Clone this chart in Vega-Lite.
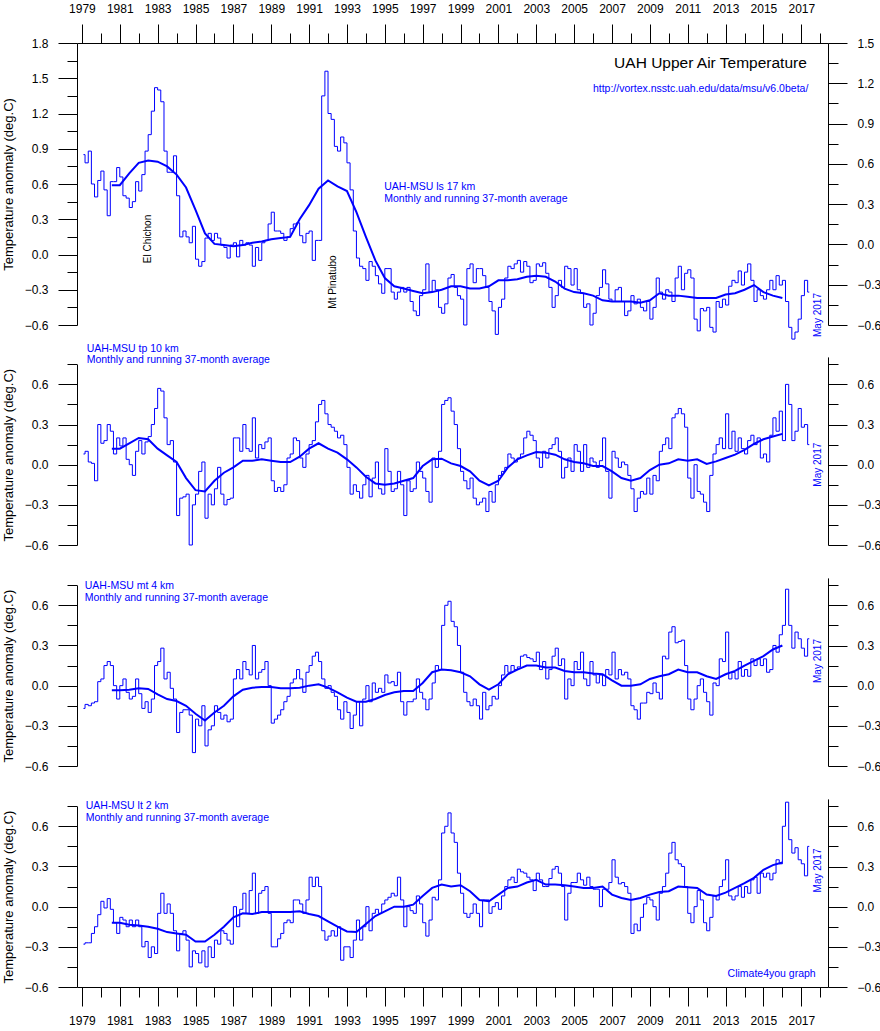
{
"$schema":"https://vega.github.io/schema/vega-lite/v6.json",
"width":751,"height":944,
"autosize":{"type":"none"},
"padding":{"left":77,"top":43,"right":52,"bottom":44},
"background":"white",
"config":{"view":{"stroke":null},"axis":{"labelFont":"Liberation Sans","labelFontSize":12,"labelColor":"#000","titleFont":"Liberation Sans","titleFontSize":13,"titleFontWeight":"normal","titleColor":"#000","domainColor":"#000","tickColor":"#000","grid":false,"labelFlush":false,"labelOverlap":false,"labelBound":false},"text":{"font":"Liberation Sans"}},
"data":{"values":[{}]},
"datasets":{
"m":[
{"t":1979.08,"a":0.85,"b":0.08,"c":-0.17,"d":-0.28},{"t":1979.25,"a":0.78,"b":0.1,"c":-0.14,"d":-0.27},{"t":1979.42,"a":0.88,"b":0.02,"c":-0.15,"d":-0.27},{"t":1979.58,"a":0.6,"b":0.01,"c":-0.13,"d":-0.2},{"t":1979.75,"a":0.49,"b":-0.12,"c":-0.12,"d":-0.15},{"t":1979.92,"a":0.63,"b":0.3,"c":0.03,"d":-0.06},
{"t":1980.08,"a":0.71,"b":0.16,"c":0.05,"d":0.04},{"t":1980.25,"a":0.55,"b":0.18,"c":0.15,"d":-0.01},{"t":1980.42,"a":0.33,"b":0.3,"c":0.18,"d":0.06},{"t":1980.58,"a":0.62,"b":0.25,"c":0.15,"d":-0.02},{"t":1980.75,"a":0.62,"b":0.08,"c":0.0,"d":-0.12},{"t":1980.92,"a":0.74,"b":0.2,"c":-0.1,"d":-0.2},
{"t":1981.08,"a":0.66,"b":0.14,"c":0.0,"d":-0.08},{"t":1981.25,"a":0.5,"b":0.2,"c":0.05,"d":-0.1},{"t":1981.42,"a":0.48,"b":0.04,"c":-0.05,"d":-0.15},{"t":1981.58,"a":0.4,"b":0.0,"c":-0.1,"d":-0.1},{"t":1981.75,"a":0.45,"b":-0.08,"c":-0.08,"d":-0.15},{"t":1981.92,"a":0.62,"b":0.1,"c":0.05,"d":-0.1},
{"t":1982.08,"a":0.54,"b":0.18,"c":-0.06,"d":-0.15},{"t":1982.25,"a":0.68,"b":0.08,"c":-0.17,"d":-0.3},{"t":1982.42,"a":0.88,"b":0.17,"c":-0.12,"d":-0.26},{"t":1982.58,"a":1.02,"b":0.21,"c":-0.2,"d":-0.38},{"t":1982.75,"a":1.22,"b":0.3,"c":-0.1,"d":-0.3},{"t":1982.92,"a":1.42,"b":0.42,"c":0.15,"d":-0.35},
{"t":1983.08,"a":1.4,"b":0.57,"c":0.18,"d":-0.05},{"t":1983.25,"a":1.3,"b":0.55,"c":0.28,"d":0.1},{"t":1983.42,"a":0.88,"b":0.35,"c":0.05,"d":-0.05},{"t":1983.58,"a":0.7,"b":0.15,"c":0.1,"d":0.02},{"t":1983.75,"a":0.7,"b":0.18,"c":-0.02,"d":-0.05},{"t":1983.92,"a":0.84,"b":0.02,"c":-0.1,"d":-0.18},
{"t":1984.08,"a":0.5,"b":-0.38,"c":-0.35,"d":-0.33},{"t":1984.25,"a":0.15,"b":-0.25,"c":-0.2,"d":-0.2},{"t":1984.42,"a":0.2,"b":-0.24,"c":-0.18,"d":-0.18},{"t":1984.58,"a":0.15,"b":-0.22,"c":-0.18,"d":-0.25},{"t":1984.75,"a":0.1,"b":-0.6,"c":-0.22,"d":-0.45},{"t":1984.92,"a":0.24,"b":-0.3,"c":-0.5,"d":-0.33},
{"t":1985.08,"a":-0.04,"b":-0.22,"c":-0.25,"d":-0.35},{"t":1985.25,"a":-0.1,"b":-0.05,"c":-0.3,"d":-0.42},{"t":1985.42,"a":-0.06,"b":0.02,"c":-0.15,"d":-0.33},{"t":1985.58,"a":0.14,"b":-0.4,"c":-0.45,"d":-0.45},{"t":1985.75,"a":0.18,"b":-0.22,"c":-0.33,"d":-0.3},{"t":1985.92,"a":0.12,"b":-0.3,"c":-0.3,"d":-0.38},
{"t":1986.08,"a":0.18,"b":-0.18,"c":-0.15,"d":-0.25},{"t":1986.25,"a":0.14,"b":-0.02,"c":-0.2,"d":-0.28},{"t":1986.42,"a":0.08,"b":-0.22,"c":-0.25,"d":-0.18},{"t":1986.58,"a":0.06,"b":-0.3,"c":-0.22,"d":-0.2},{"t":1986.75,"a":-0.03,"b":-0.26,"c":-0.27,"d":-0.25},{"t":1986.92,"a":0.08,"b":-0.25,"c":-0.25,"d":-0.28},
{"t":1987.08,"a":0.1,"b":0.2,"c":0.05,"d":0.0},{"t":1987.25,"a":-0.02,"b":0.2,"c":0.12,"d":-0.15},{"t":1987.42,"a":0.12,"b":0.1,"c":0.05,"d":-0.02},{"t":1987.58,"a":0.08,"b":0.3,"c":0.18,"d":0.1},{"t":1987.75,"a":0.1,"b":0.12,"c":0.12,"d":-0.05},{"t":1987.92,"a":0.08,"b":0.1,"c":0.08,"d":0.12},
{"t":1988.08,"a":-0.1,"b":0.35,"c":0.3,"d":0.25},{"t":1988.25,"a":0.06,"b":0.05,"c":0.05,"d":-0.05},{"t":1988.42,"a":-0.05,"b":0.15,"c":0.1,"d":0.1},{"t":1988.58,"a":0.1,"b":0.12,"c":0.12,"d":0.12},{"t":1988.75,"a":0.12,"b":0.17,"c":0.18,"d":0.15},{"t":1988.92,"a":0.26,"b":0.2,"c":0.0,"d":-0.05},
{"t":1989.08,"a":0.36,"b":-0.12,"c":-0.28,"d":-0.3},{"t":1989.25,"a":0.2,"b":-0.2,"c":-0.25,"d":-0.3},{"t":1989.42,"a":0.2,"b":-0.17,"c":-0.22,"d":-0.24},{"t":1989.58,"a":0.18,"b":-0.2,"c":-0.18,"d":-0.2},{"t":1989.75,"a":0.12,"b":-0.15,"c":-0.12,"d":-0.12},{"t":1989.92,"a":0.15,"b":0.05,"c":-0.08,"d":-0.1},
{"t":1990.08,"a":0.22,"b":0.08,"c":0.02,"d":-0.12},{"t":1990.25,"a":0.26,"b":0.2,"c":0.05,"d":0.05},{"t":1990.42,"a":0.27,"b":0.18,"c":0.12,"d":0.05},{"t":1990.58,"a":0.16,"b":0.05,"c":0.05,"d":0.02},{"t":1990.75,"a":0.1,"b":-0.02,"c":-0.05,"d":-0.05},{"t":1990.92,"a":0.18,"b":0.08,"c":0.1,"d":0.05},
{"t":1991.08,"a":0.2,"b":0.15,"c":0.15,"d":0.22},{"t":1991.25,"a":-0.05,"b":0.18,"c":0.22,"d":0.15},{"t":1991.42,"a":0.12,"b":0.32,"c":0.25,"d":0.22},{"t":1991.58,"a":0.12,"b":0.45,"c":0.18,"d":0.15},{"t":1991.75,"a":1.35,"b":0.48,"c":0.05,"d":-0.18},{"t":1991.92,"a":1.56,"b":0.38,"c":-0.02,"d":-0.25},
{"t":1992.08,"a":1.2,"b":0.3,"c":0.0,"d":-0.22},{"t":1992.25,"a":1.15,"b":0.28,"c":-0.05,"d":-0.18},{"t":1992.42,"a":0.92,"b":0.25,"c":-0.08,"d":-0.22},{"t":1992.58,"a":0.88,"b":0.2,"c":-0.18,"d":-0.15},{"t":1992.75,"a":1.0,"b":0.22,"c":-0.25,"d":-0.4},{"t":1992.92,"a":0.95,"b":0.15,"c":-0.12,"d":-0.3},
{"t":1993.08,"a":0.78,"b":-0.02,"c":-0.2,"d":-0.3},{"t":1993.25,"a":0.55,"b":-0.22,"c":-0.32,"d":-0.38},{"t":1993.42,"a":0.2,"b":-0.15,"c":-0.22,"d":-0.25},{"t":1993.58,"a":-0.03,"b":-0.2,"c":-0.12,"d":-0.1},{"t":1993.75,"a":-0.1,"b":-0.25,"c":-0.3,"d":-0.25},{"t":1993.92,"a":-0.12,"b":-0.15,"c":-0.1,"d":-0.15},
{"t":1994.08,"a":-0.22,"b":-0.08,"c":0.0,"d":0.0},{"t":1994.25,"a":-0.06,"b":-0.24,"c":-0.12,"d":-0.18},{"t":1994.42,"a":-0.1,"b":-0.1,"c":0.02,"d":-0.05},{"t":1994.58,"a":-0.18,"b":0.02,"c":-0.05,"d":-0.02},{"t":1994.75,"a":-0.25,"b":-0.18,"c":-0.02,"d":-0.05},{"t":1994.92,"a":-0.33,"b":-0.22,"c":-0.05,"d":0.02},
{"t":1995.08,"a":-0.12,"b":0.12,"c":0.08,"d":0.05},{"t":1995.25,"a":-0.12,"b":-0.05,"c":0.02,"d":0.07},{"t":1995.42,"a":-0.32,"b":-0.2,"c":0.03,"d":0.1},{"t":1995.58,"a":-0.38,"b":-0.18,"c":0.0,"d":0.08},{"t":1995.75,"a":-0.32,"b":-0.05,"c":0.1,"d":0.22},{"t":1995.92,"a":-0.28,"b":-0.15,"c":-0.12,"d":0.05},
{"t":1996.08,"a":-0.32,"b":-0.38,"c":-0.22,"d":-0.15},{"t":1996.25,"a":-0.28,"b":-0.12,"c":-0.12,"d":0.0},{"t":1996.42,"a":-0.4,"b":-0.2,"c":-0.12,"d":-0.03},{"t":1996.58,"a":-0.48,"b":-0.18,"c":-0.1,"d":-0.05},{"t":1996.75,"a":-0.52,"b":0.02,"c":0.05,"d":0.08},{"t":1996.92,"a":-0.35,"b":-0.05,"c":-0.05,"d":0.02},
{"t":1997.08,"a":-0.3,"b":-0.1,"c":-0.1,"d":-0.12},{"t":1997.25,"a":-0.08,"b":-0.2,"c":-0.18,"d":-0.22},{"t":1997.42,"a":-0.32,"b":-0.28,"c":-0.1,"d":-0.1},{"t":1997.58,"a":-0.22,"b":0.05,"c":0.02,"d":0.07},{"t":1997.75,"a":-0.3,"b":-0.02,"c":0.15,"d":0.05},{"t":1997.92,"a":-0.45,"b":0.1,"c":0.12,"d":0.2},
{"t":1998.08,"a":-0.5,"b":0.45,"c":0.45,"d":0.55},{"t":1998.25,"a":-0.42,"b":0.48,"c":0.6,"d":0.6},{"t":1998.42,"a":-0.2,"b":0.5,"c":0.63,"d":0.7},{"t":1998.58,"a":-0.17,"b":0.4,"c":0.48,"d":0.55},{"t":1998.75,"a":-0.28,"b":0.3,"c":0.44,"d":0.48},{"t":1998.92,"a":-0.35,"b":0.12,"c":0.3,"d":0.25},
{"t":1999.08,"a":-0.38,"b":-0.05,"c":0.1,"d":0.1},{"t":1999.25,"a":-0.6,"b":-0.12,"c":-0.05,"d":-0.05},{"t":1999.42,"a":-0.12,"b":-0.18,"c":-0.12,"d":-0.08},{"t":1999.58,"a":-0.08,"b":-0.1,"c":-0.15,"d":-0.05},{"t":1999.75,"a":-0.24,"b":-0.25,"c":-0.1,"d":0.02},{"t":1999.92,"a":-0.12,"b":-0.3,"c":-0.15,"d":-0.05},
{"t":2000.08,"a":-0.12,"b":-0.28,"c":-0.25,"d":-0.15},{"t":2000.25,"a":-0.18,"b":-0.25,"c":-0.05,"d":0.05},{"t":2000.42,"a":-0.28,"b":-0.35,"c":-0.18,"d":0.05},{"t":2000.58,"a":-0.4,"b":-0.2,"c":-0.15,"d":-0.05},{"t":2000.75,"a":-0.48,"b":-0.28,"c":-0.08,"d":0.0},{"t":2000.92,"a":-0.68,"b":-0.15,"c":-0.1,"d":0.03},
{"t":2001.08,"a":-0.45,"b":-0.08,"c":0.0,"d":-0.02},{"t":2001.25,"a":-0.38,"b":-0.05,"c":0.08,"d":0.08},{"t":2001.42,"a":-0.2,"b":-0.02,"c":0.15,"d":0.15},{"t":2001.58,"a":-0.1,"b":0.08,"c":0.1,"d":0.2},{"t":2001.75,"a":-0.12,"b":0.05,"c":0.15,"d":0.22},{"t":2001.92,"a":-0.08,"b":0.02,"c":0.12,"d":0.18},
{"t":2002.08,"a":-0.05,"b":0.05,"c":0.14,"d":0.28},{"t":2002.25,"a":-0.15,"b":0.08,"c":0.22,"d":0.26},{"t":2002.42,"a":-0.06,"b":0.2,"c":0.23,"d":0.25},{"t":2002.58,"a":-0.1,"b":0.25,"c":0.21,"d":0.22},{"t":2002.75,"a":-0.24,"b":0.22,"c":0.2,"d":0.2},{"t":2002.92,"a":-0.22,"b":0.18,"c":0.18,"d":0.12},
{"t":2003.08,"a":-0.08,"b":0.05,"c":0.25,"d":0.25},{"t":2003.25,"a":-0.1,"b":-0.02,"c":0.12,"d":0.2},{"t":2003.42,"a":-0.07,"b":0.1,"c":0.18,"d":0.15},{"t":2003.58,"a":-0.16,"b":0.05,"c":0.05,"d":0.15},{"t":2003.75,"a":-0.28,"b":0.12,"c":0.12,"d":0.21},{"t":2003.92,"a":-0.45,"b":0.15,"c":0.22,"d":0.28},
{"t":2004.08,"a":-0.35,"b":0.2,"c":0.28,"d":0.3},{"t":2004.25,"a":-0.22,"b":0.1,"c":0.15,"d":0.25},{"t":2004.42,"a":-0.28,"b":-0.1,"c":0.2,"d":0.15},{"t":2004.58,"a":-0.1,"b":-0.02,"c":-0.1,"d":-0.1},{"t":2004.75,"a":-0.12,"b":0.05,"c":0.05,"d":0.1},{"t":2004.92,"a":-0.26,"b":-0.05,"c":0.0,"d":0.18},
{"t":2005.08,"a":-0.12,"b":0.15,"c":0.18,"d":0.18},{"t":2005.25,"a":-0.3,"b":0.1,"c":0.12,"d":0.25},{"t":2005.42,"a":-0.33,"b":-0.05,"c":0.25,"d":0.2},{"t":2005.58,"a":-0.45,"b":0.15,"c":0.05,"d":0.16},{"t":2005.75,"a":-0.42,"b":-0.02,"c":0.0,"d":0.22},{"t":2005.92,"a":-0.6,"b":0.05,"c":0.18,"d":0.15},
{"t":2006.08,"a":-0.5,"b":0.02,"c":0.08,"d":0.13},{"t":2006.25,"a":-0.35,"b":-0.02,"c":0.02,"d":0.13},{"t":2006.42,"a":-0.28,"b":0.03,"c":0.08,"d":0.0},{"t":2006.58,"a":-0.13,"b":0.2,"c":0.0,"d":0.13},{"t":2006.75,"a":-0.25,"b":-0.05,"c":0.12,"d":0.13},{"t":2006.92,"a":-0.38,"b":-0.25,"c":0.08,"d":0.18},
{"t":2007.08,"a":-0.4,"b":0.1,"c":0.25,"d":0.35},{"t":2007.25,"a":-0.3,"b":0.05,"c":0.05,"d":0.22},{"t":2007.42,"a":-0.28,"b":-0.02,"c":0.12,"d":0.17},{"t":2007.58,"a":-0.4,"b":0.02,"c":0.08,"d":0.18},{"t":2007.75,"a":-0.52,"b":0.0,"c":0.1,"d":0.15},{"t":2007.92,"a":-0.48,"b":-0.08,"c":0.05,"d":0.1},
{"t":2008.08,"a":-0.35,"b":-0.18,"c":-0.15,"d":-0.2},{"t":2008.25,"a":-0.42,"b":-0.35,"c":-0.18,"d":-0.13},{"t":2008.42,"a":-0.38,"b":-0.25,"c":-0.25,"d":-0.18},{"t":2008.58,"a":-0.45,"b":-0.2,"c":-0.13,"d":-0.08},{"t":2008.75,"a":-0.48,"b":-0.22,"c":-0.13,"d":0.02},{"t":2008.92,"a":-0.4,"b":-0.1,"c":-0.05,"d":0.07},
{"t":2009.08,"a":-0.55,"b":-0.22,"c":-0.06,"d":0.05},{"t":2009.25,"a":-0.45,"b":-0.08,"c":0.02,"d":0.0},{"t":2009.42,"a":-0.2,"b":-0.12,"c":-0.05,"d":-0.1},{"t":2009.58,"a":-0.32,"b":0.1,"c":-0.1,"d":0.1},{"t":2009.75,"a":-0.38,"b":0.15,"c":0.22,"d":0.15},{"t":2009.92,"a":-0.3,"b":0.2,"c":0.2,"d":0.25},
{"t":2010.08,"a":-0.32,"b":0.12,"c":0.4,"d":0.4},{"t":2010.25,"a":-0.4,"b":0.35,"c":0.44,"d":0.48},{"t":2010.42,"a":-0.2,"b":0.38,"c":0.32,"d":0.35},{"t":2010.58,"a":-0.1,"b":0.42,"c":0.33,"d":0.32},{"t":2010.75,"a":-0.3,"b":0.38,"c":0.34,"d":0.3},{"t":2010.92,"a":-0.16,"b":0.28,"c":0.15,"d":0.15},
{"t":2011.08,"a":-0.13,"b":-0.1,"c":-0.1,"d":-0.05},{"t":2011.25,"a":-0.2,"b":-0.25,"c":-0.18,"d":-0.12},{"t":2011.42,"a":-0.55,"b":0.0,"c":-0.1,"d":0.0},{"t":2011.58,"a":-0.65,"b":-0.2,"c":0.0,"d":0.12},{"t":2011.75,"a":-0.46,"b":-0.22,"c":0.05,"d":0.05},{"t":2011.92,"a":-0.48,"b":-0.28,"c":-0.05,"d":-0.12},
{"t":2012.08,"a":-0.45,"b":-0.35,"c":-0.12,"d":-0.18},{"t":2012.25,"a":-0.62,"b":-0.08,"c":-0.22,"d":-0.08},{"t":2012.42,"a":-0.66,"b":0.08,"c":0.02,"d":0.08},{"t":2012.58,"a":-0.4,"b":0.15,"c":0.0,"d":0.05},{"t":2012.75,"a":-0.45,"b":0.2,"c":0.2,"d":0.15},{"t":2012.92,"a":-0.38,"b":0.12,"c":0.18,"d":0.2},
{"t":2013.08,"a":-0.43,"b":0.38,"c":0.4,"d":0.35},{"t":2013.25,"a":-0.27,"b":0.12,"c":0.05,"d":0.08},{"t":2013.42,"a":-0.22,"b":0.25,"c":0.1,"d":0.05},{"t":2013.58,"a":-0.24,"b":0.1,"c":0.05,"d":0.08},{"t":2013.75,"a":-0.14,"b":0.2,"c":0.18,"d":0.15},{"t":2013.92,"a":-0.26,"b":0.12,"c":0.07,"d":0.07},
{"t":2014.08,"a":-0.15,"b":0.08,"c":0.12,"d":0.15},{"t":2014.25,"a":-0.08,"b":0.18,"c":0.07,"d":0.1},{"t":2014.42,"a":-0.22,"b":0.22,"c":0.2,"d":0.2},{"t":2014.58,"a":-0.4,"b":0.15,"c":0.15,"d":0.22},{"t":2014.75,"a":-0.3,"b":0.2,"c":0.2,"d":0.1},{"t":2014.92,"a":-0.35,"b":0.05,"c":0.15,"d":0.25},
{"t":2015.08,"a":-0.38,"b":0.08,"c":0.2,"d":0.22},{"t":2015.25,"a":-0.3,"b":0.02,"c":0.1,"d":0.25},{"t":2015.42,"a":-0.22,"b":0.22,"c":0.12,"d":0.2},{"t":2015.58,"a":-0.3,"b":0.35,"c":0.3,"d":0.25},{"t":2015.75,"a":-0.18,"b":0.25,"c":0.25,"d":0.35},{"t":2015.92,"a":-0.26,"b":0.4,"c":0.38,"d":0.32},
{"t":2016.08,"a":-0.22,"b":0.18,"c":0.45,"d":0.6},{"t":2016.25,"a":-0.4,"b":0.6,"c":0.72,"d":0.78},{"t":2016.42,"a":-0.62,"b":0.45,"c":0.45,"d":0.5},{"t":2016.58,"a":-0.72,"b":0.18,"c":0.28,"d":0.4},{"t":2016.75,"a":-0.66,"b":0.25,"c":0.4,"d":0.44},{"t":2016.92,"a":-0.55,"b":0.42,"c":0.35,"d":0.35},
{"t":2017.08,"a":-0.35,"b":0.28,"c":0.28,"d":0.32},{"t":2017.25,"a":-0.22,"b":0.3,"c":0.22,"d":0.23},{"t":2017.42,"a":-0.32,"b":0.15,"c":0.35,"d":0.45}
],
"avg":[
{"t":1980.58,"a":0.59,"b":0.12,"c":-0.035,"d":-0.12},{"t":1981.0,"a":0.59,"b":0.12,"c":-0.035,"d":-0.12},{"t":1981.5,"a":0.69,"b":0.16,"c":-0.03,"d":-0.135},{"t":1982.0,"a":0.78,"b":0.2,"c":-0.02,"d":-0.14},{"t":1982.5,"a":0.8,"b":0.19,"c":-0.025,"d":-0.15},{"t":1983.0,"a":0.79,"b":0.12,"c":-0.065,"d":-0.165},{"t":1983.5,"a":0.75,"b":0.07,"c":-0.1,"d":-0.19},{"t":1984.0,"a":0.68,"b":0.02,"c":-0.115,"d":-0.2},{"t":1984.5,"a":0.57,"b":-0.1,"c":-0.15,"d":-0.21},{"t":1985.0,"a":0.38,"b":-0.19,"c":-0.21,"d":-0.26},{"t":1985.5,"a":0.18,"b":-0.2,"c":-0.26,"d":-0.26},{"t":1986.0,"a":0.09,"b":-0.12,"c":-0.2,"d":-0.21},{"t":1986.5,"a":0.08,"b":-0.06,"c":-0.15,"d":-0.15},{"t":1987.0,"a":0.07,"b":-0.02,"c":-0.08,"d":-0.08},{"t":1987.5,"a":0.08,"b":0.03,"c":-0.03,"d":-0.05},{"t":1988.0,"a":0.1,"b":0.03,"c":-0.015,"d":-0.055},{"t":1988.5,"a":0.11,"b":0.04,"c":-0.01,"d":-0.04},{"t":1989.0,"a":0.13,"b":0.03,"c":-0.01,"d":-0.04},{"t":1989.5,"a":0.14,"b":0.02,"c":-0.02,"d":-0.04},{"t":1990.0,"a":0.15,"b":0.02,"c":-0.02,"d":-0.04},{"t":1990.5,"a":0.3,"b":0.06,"c":-0.015,"d":-0.035},{"t":1991.0,"a":0.42,"b":0.12,"c":0.0,"d":-0.055},{"t":1991.5,"a":0.56,"b":0.16,"c":0.01,"d":-0.07},{"t":1992.0,"a":0.63,"b":0.12,"c":-0.015,"d":-0.11},{"t":1992.5,"a":0.58,"b":0.09,"c":-0.05,"d":-0.15},{"t":1993.0,"a":0.54,"b":0.04,"c":-0.09,"d":-0.185},{"t":1993.5,"a":0.36,"b":-0.02,"c":-0.12,"d":-0.19},{"t":1994.0,"a":0.15,"b":-0.09,"c":-0.12,"d":-0.13},{"t":1994.5,"a":-0.05,"b":-0.14,"c":-0.1,"d":-0.07},{"t":1995.0,"a":-0.2,"b":-0.15,"c":-0.07,"d":-0.035},{"t":1995.5,"a":-0.27,"b":-0.14,"c":-0.05,"d":0.0},{"t":1996.0,"a":-0.29,"b":-0.12,"c":-0.04,"d":0.0},{"t":1996.5,"a":-0.31,"b":-0.1,"c":-0.04,"d":0.015},{"t":1997.0,"a":-0.33,"b":-0.01,"c":0.02,"d":0.08},{"t":1997.5,"a":-0.32,"b":0.04,"c":0.1,"d":0.14},{"t":1998.0,"a":-0.3,"b":0.045,"c":0.12,"d":0.165},{"t":1998.5,"a":-0.27,"b":0.01,"c":0.115,"d":0.15},{"t":1999.0,"a":-0.27,"b":-0.01,"c":0.1,"d":0.16},{"t":1999.5,"a":-0.29,"b":-0.05,"c":0.07,"d":0.115},{"t":2000.0,"a":-0.29,"b":-0.12,"c":0.01,"d":0.05},{"t":2000.5,"a":-0.27,"b":-0.155,"c":-0.03,"d":0.04},{"t":2001.0,"a":-0.22,"b":-0.12,"c":0.01,"d":0.09},{"t":2001.5,"a":-0.22,"b":-0.02,"c":0.085,"d":0.14},{"t":2002.0,"a":-0.21,"b":0.04,"c":0.12,"d":0.15},{"t":2002.5,"a":-0.19,"b":0.07,"c":0.15,"d":0.18},{"t":2003.0,"a":-0.18,"b":0.095,"c":0.15,"d":0.2},{"t":2003.5,"a":-0.19,"b":0.09,"c":0.135,"d":0.165},{"t":2004.0,"a":-0.23,"b":0.075,"c":0.135,"d":0.165},{"t":2004.5,"a":-0.29,"b":0.04,"c":0.11,"d":0.16},{"t":2005.0,"a":-0.32,"b":0.02,"c":0.1,"d":0.15},{"t":2005.5,"a":-0.33,"b":0.01,"c":0.1,"d":0.14},{"t":2006.0,"a":-0.35,"b":-0.01,"c":0.09,"d":0.14},{"t":2006.5,"a":-0.39,"b":-0.01,"c":0.085,"d":0.15},{"t":2007.0,"a":-0.4,"b":-0.05,"c":0.04,"d":0.09},{"t":2007.5,"a":-0.4,"b":-0.1,"c":0.0,"d":0.065},{"t":2008.0,"a":-0.4,"b":-0.12,"c":0.0,"d":0.05},{"t":2008.5,"a":-0.41,"b":-0.1,"c":0.01,"d":0.065},{"t":2009.0,"a":-0.39,"b":-0.04,"c":0.05,"d":0.09},{"t":2009.5,"a":-0.33,"b":0.0,"c":0.07,"d":0.11},{"t":2010.0,"a":-0.35,"b":0.01,"c":0.085,"d":0.115},{"t":2010.5,"a":-0.35,"b":0.04,"c":0.12,"d":0.15},{"t":2011.0,"a":-0.36,"b":0.03,"c":0.1,"d":0.145},{"t":2011.5,"a":-0.37,"b":0.04,"c":0.1,"d":0.14},{"t":2012.0,"a":-0.37,"b":0.005,"c":0.07,"d":0.09},{"t":2012.5,"a":-0.37,"b":0.025,"c":0.05,"d":0.08},{"t":2013.0,"a":-0.34,"b":0.05,"c":0.085,"d":0.105},{"t":2013.5,"a":-0.33,"b":0.075,"c":0.11,"d":0.14},{"t":2014.0,"a":-0.3,"b":0.11,"c":0.15,"d":0.175},{"t":2014.5,"a":-0.26,"b":0.155,"c":0.185,"d":0.215},{"t":2015.0,"a":-0.32,"b":0.19,"c":0.22,"d":0.275},{"t":2015.5,"a":-0.35,"b":0.21,"c":0.27,"d":0.31},{"t":2016.0,"a":-0.37,"b":0.23,"c":0.3,"d":0.33}
]},
"resolve":{"scale":{"y":"independent"},"axis":{"x":"independent","y":"independent"}},
"layer":[
{"data":{"name":"m"},"mark":{"type":"line","interpolate":"step","color":"#0000ff","strokeWidth":1},"encoding":{"x":{"field":"t","type":"quantitative","scale":{"domain":[1978.74,2018.41],"nice":false,"zero":false},"axis":{"orient":"top","values":[1979,1981,1983,1985,1987,1989,1991,1993,1995,1997,1999,2001,2003,2005,2007,2009,2011,2013,2015,2017],"format":"d","tickSize":19,"labelPadding":9,"title":null}},"y":{"field":"a","type":"quantitative","scale":{"domain":[-0.6,1.8],"range":[282,0],"nice":false,"zero":false},"axis":{"orient":"left","values":[-0.6,-0.3,0,0.3,0.6,0.9,1.2,1.5,1.8],"format":".1f","tickSize":19,"labelPadding":10,"title":"Temperature anomaly (deg.C)","titleX":-69,"titleY":141,"titleAngle":270,"titleAlign":"center","titleBaseline":"middle"}}}},
{"data":{"name":"avg"},"mark":{"type":"line","color":"#0000ff","strokeWidth":2},"encoding":{"x":{"field":"t","type":"quantitative","scale":{"domain":[1978.74,2018.41],"nice":false,"zero":false},"axis":null},"y":{"field":"a","type":"quantitative","scale":{"domain":[-0.6,1.8],"range":[282,0],"nice":false,"zero":false},"axis":null}}},
{"mark":{"type":"point","opacity":0},"encoding":{"x":{"datum":2000,"type":"quantitative","scale":{"domain":[1978.74,2018.41],"nice":false,"zero":false},"axis":{"orient":"top","values":[1980,1982,1984,1986,1988,1990,1992,1994,1996,1998,2000,2002,2004,2006,2008,2010,2012,2014,2016,2018],"tickSize":10,"labels":false,"domain":false,"title":null}},"y":{"datum":0,"type":"quantitative","scale":{"domain":[-0.6,1.8],"range":[282,0],"nice":false,"zero":false},"axis":{"orient":"left","values":[-0.45,-0.15,0.15,0.45,0.75,1.05,1.35,1.65],"tickSize":10,"labels":false,"domain":false,"title":null}}}},
{"mark":{"type":"point","opacity":0},"encoding":{"y":{"datum":0,"type":"quantitative","scale":{"domain":[-0.6,1.5],"range":[282,0],"nice":false,"zero":false},"axis":{"orient":"right","values":[-0.6,-0.3,0,0.3,0.6,0.9,1.2,1.5],"format":".1f","tickSize":19,"labelPadding":10,"title":null}}}},
{"mark":{"type":"point","opacity":0},"encoding":{"y":{"datum":0,"type":"quantitative","scale":{"domain":[-0.6,1.5],"range":[282,0],"nice":false,"zero":false},"axis":{"orient":"right","values":[-0.45,-0.15,0.15,0.45,0.75,1.05,1.35],"tickSize":10,"labels":false,"domain":false,"title":null}}}},

{"data":{"name":"m"},"mark":{"type":"line","interpolate":"step","color":"#0000ff","strokeWidth":1},"encoding":{"x":{"field":"t","type":"quantitative","scale":{"domain":[1978.74,2018.41],"nice":false,"zero":false},"axis":null},"y":{"field":"b","type":"quantitative","scale":{"domain":[-0.6,0.75],"range":[502,321.3],"nice":false,"zero":false},"axis":{"orient":"left","values":[-0.6,-0.3,0,0.3,0.6],"format":".1f","tickSize":19,"labelPadding":10,"title":"Temperature anomaly (deg.C)","titleX":-69,"titleY":411.7,"titleAngle":270,"titleAlign":"center","titleBaseline":"middle"}}}},
{"data":{"name":"avg"},"mark":{"type":"line","color":"#0000ff","strokeWidth":2},"encoding":{"x":{"field":"t","type":"quantitative","scale":{"domain":[1978.74,2018.41],"nice":false,"zero":false},"axis":null},"y":{"field":"b","type":"quantitative","scale":{"domain":[-0.6,0.75],"range":[502,321.3],"nice":false,"zero":false},"axis":null}}},
{"mark":{"type":"point","opacity":0},"encoding":{"y":{"datum":0,"type":"quantitative","scale":{"domain":[-0.6,0.75],"range":[502,321.3],"nice":false,"zero":false},"axis":{"orient":"left","values":[-0.45,-0.15,0.15,0.45,0.75],"tickSize":10,"labels":false,"domain":false,"title":null}}}},
{"mark":{"type":"point","opacity":0},"encoding":{"y":{"datum":0,"type":"quantitative","scale":{"domain":[-0.6,0.805],"range":[502,313.9],"nice":false,"zero":false},"axis":{"orient":"right","values":[-0.6,-0.3,0,0.3,0.6],"format":".1f","tickSize":19,"labelPadding":10,"title":null}}}},
{"mark":{"type":"point","opacity":0},"encoding":{"y":{"datum":0,"type":"quantitative","scale":{"domain":[-0.6,0.805],"range":[502,313.9],"nice":false,"zero":false},"axis":{"orient":"right","values":[-0.45,-0.15,0.15,0.45,0.75],"tickSize":10,"labels":false,"domain":false,"title":null}}}},

{"data":{"name":"m"},"mark":{"type":"line","interpolate":"step","color":"#0000ff","strokeWidth":1},"encoding":{"x":{"field":"t","type":"quantitative","scale":{"domain":[1978.74,2018.41],"nice":false,"zero":false},"axis":null},"y":{"field":"c","type":"quantitative","scale":{"domain":[-0.6,0.75],"range":[723,542.2],"nice":false,"zero":false},"axis":{"orient":"left","values":[-0.6,-0.3,0,0.3,0.6],"format":".1f","tickSize":19,"labelPadding":10,"title":"Temperature anomaly (deg.C)","titleX":-69,"titleY":632.6,"titleAngle":270,"titleAlign":"center","titleBaseline":"middle"}}}},
{"data":{"name":"avg"},"mark":{"type":"line","color":"#0000ff","strokeWidth":2},"encoding":{"x":{"field":"t","type":"quantitative","scale":{"domain":[1978.74,2018.41],"nice":false,"zero":false},"axis":null},"y":{"field":"c","type":"quantitative","scale":{"domain":[-0.6,0.75],"range":[723,542.2],"nice":false,"zero":false},"axis":null}}},
{"mark":{"type":"point","opacity":0},"encoding":{"y":{"datum":0,"type":"quantitative","scale":{"domain":[-0.6,0.75],"range":[723,542.2],"nice":false,"zero":false},"axis":{"orient":"left","values":[-0.45,-0.15,0.15,0.45,0.75],"tickSize":10,"labels":false,"domain":false,"title":null}}}},
{"mark":{"type":"point","opacity":0},"encoding":{"y":{"datum":0,"type":"quantitative","scale":{"domain":[-0.6,0.805],"range":[723,534.9],"nice":false,"zero":false},"axis":{"orient":"right","values":[-0.6,-0.3,0,0.3,0.6],"format":".1f","tickSize":19,"labelPadding":10,"title":null}}}},
{"mark":{"type":"point","opacity":0},"encoding":{"y":{"datum":0,"type":"quantitative","scale":{"domain":[-0.6,0.805],"range":[723,534.9],"nice":false,"zero":false},"axis":{"orient":"right","values":[-0.45,-0.15,0.15,0.45,0.75],"tickSize":10,"labels":false,"domain":false,"title":null}}}},

{"data":{"name":"m"},"mark":{"type":"line","interpolate":"step","color":"#0000ff","strokeWidth":1},"encoding":{"x":{"field":"t","type":"quantitative","scale":{"domain":[1978.74,2018.41],"nice":false,"zero":false},"axis":{"orient":"bottom","values":[1979,1981,1983,1985,1987,1989,1991,1993,1995,1997,1999,2001,2003,2005,2007,2009,2011,2013,2015,2017],"format":"d","tickSize":19,"labelPadding":9,"title":null}},"y":{"field":"d","type":"quantitative","scale":{"domain":[-0.6,0.75],"range":[944,763.2],"nice":false,"zero":false},"axis":{"orient":"left","values":[-0.6,-0.3,0,0.3,0.6],"format":".1f","tickSize":19,"labelPadding":10,"title":"Temperature anomaly (deg.C)","titleX":-69,"titleY":853.6,"titleAngle":270,"titleAlign":"center","titleBaseline":"middle"}}}},
{"data":{"name":"avg"},"mark":{"type":"line","color":"#0000ff","strokeWidth":2},"encoding":{"x":{"field":"t","type":"quantitative","scale":{"domain":[1978.74,2018.41],"nice":false,"zero":false},"axis":null},"y":{"field":"d","type":"quantitative","scale":{"domain":[-0.6,0.75],"range":[944,763.2],"nice":false,"zero":false},"axis":null}}},
{"mark":{"type":"point","opacity":0},"encoding":{"x":{"datum":2000,"type":"quantitative","scale":{"domain":[1978.74,2018.41],"nice":false,"zero":false},"axis":{"orient":"bottom","values":[1980,1982,1984,1986,1988,1990,1992,1994,1996,1998,2000,2002,2004,2006,2008,2010,2012,2014,2016,2018],"tickSize":10,"labels":false,"domain":false,"title":null}},"y":{"datum":0,"type":"quantitative","scale":{"domain":[-0.6,0.75],"range":[944,763.2],"nice":false,"zero":false},"axis":{"orient":"left","values":[-0.45,-0.15,0.15,0.45,0.75],"tickSize":10,"labels":false,"domain":false,"title":null}}}},
{"mark":{"type":"point","opacity":0},"encoding":{"y":{"datum":0,"type":"quantitative","scale":{"domain":[-0.6,0.805],"range":[944,755.9],"nice":false,"zero":false},"axis":{"orient":"right","values":[-0.6,-0.3,0,0.3,0.6],"format":".1f","tickSize":19,"labelPadding":10,"title":null}}}},
{"mark":{"type":"point","opacity":0},"encoding":{"y":{"datum":0,"type":"quantitative","scale":{"domain":[-0.6,0.805],"range":[944,755.9],"nice":false,"zero":false},"axis":{"orient":"right","values":[-0.45,-0.15,0.15,0.45,0.75],"tickSize":10,"labels":false,"domain":false,"title":null}}}},

{"mark":{"type":"text","text":"UAH Upper Air Temperature","align":"right","baseline":"middle","fontSize":15.5,"color":"#000"},"encoding":{"x":{"datum":2017.29,"type":"quantitative","scale":{"domain":[1978.74,2018.41],"nice":false,"zero":false},"axis":null},"y":{"datum":1.627,"type":"quantitative","scale":{"domain":[-0.6,1.8],"range":[282,0],"nice":false,"zero":false},"axis":null}}},
{"mark":{"type":"text","text":"http://vortex.nsstc.uah.edu/data/msu/v6.0beta/","align":"right","baseline":"middle","fontSize":10.5,"color":"#0000ff"},"encoding":{"x":{"datum":2017.37,"type":"quantitative","scale":{"domain":[1978.74,2018.41],"nice":false,"zero":false},"axis":null},"y":{"datum":1.411,"type":"quantitative","scale":{"domain":[-0.6,1.8],"range":[282,0],"nice":false,"zero":false},"axis":null}}},
{"mark":{"type":"text","text":"UAH-MSU ls 17 km","align":"left","baseline":"middle","fontSize":10.5,"color":"#0000ff"},"encoding":{"x":{"datum":1994.97,"type":"quantitative","scale":{"domain":[1978.74,2018.41],"nice":false,"zero":false},"axis":null},"y":{"datum":0.574,"type":"quantitative","scale":{"domain":[-0.6,1.8],"range":[282,0],"nice":false,"zero":false},"axis":null}}},
{"mark":{"type":"text","text":"Monthly and running 37-month average","align":"left","baseline":"middle","fontSize":10.5,"color":"#0000ff"},"encoding":{"x":{"datum":1994.97,"type":"quantitative","scale":{"domain":[1978.74,2018.41],"nice":false,"zero":false},"axis":null},"y":{"datum":0.472,"type":"quantitative","scale":{"domain":[-0.6,1.8],"range":[282,0],"nice":false,"zero":false},"axis":null}}},
{"mark":{"type":"text","text":"El Chichon","align":"center","baseline":"middle","angle":270,"fontSize":10,"color":"#000"},"encoding":{"x":{"datum":1982.48,"type":"quantitative","scale":{"domain":[1978.74,2018.41],"nice":false,"zero":false},"axis":null},"y":{"datum":0.132,"type":"quantitative","scale":{"domain":[-0.6,1.8],"range":[282,0],"nice":false,"zero":false},"axis":null}}},
{"mark":{"type":"text","text":"Mt Pinatubo","align":"center","baseline":"middle","angle":270,"fontSize":10,"color":"#000"},"encoding":{"x":{"datum":1992.25,"type":"quantitative","scale":{"domain":[1978.74,2018.41],"nice":false,"zero":false},"axis":null},"y":{"datum":-0.234,"type":"quantitative","scale":{"domain":[-0.6,1.8],"range":[282,0],"nice":false,"zero":false},"axis":null}}},
{"mark":{"type":"text","text":"May 2017","align":"center","baseline":"middle","angle":270,"fontSize":10,"color":"#0000ff"},"encoding":{"x":{"datum":2017.88,"type":"quantitative","scale":{"domain":[1978.74,2018.41],"nice":false,"zero":false},"axis":null},"y":{"datum":-0.515,"type":"quantitative","scale":{"domain":[-0.6,1.8],"range":[282,0],"nice":false,"zero":false},"axis":null}}},

{"mark":{"type":"text","text":"UAH-MSU tp 10 km","align":"left","baseline":"middle","fontSize":10.5,"color":"#0000ff"},"encoding":{"x":{"datum":1979.25,"type":"quantitative","scale":{"domain":[1978.74,2018.41],"nice":false,"zero":false},"axis":null},"y":{"datum":0.864,"type":"quantitative","scale":{"domain":[-0.6,0.75],"range":[502,321.3],"nice":false,"zero":false},"axis":null}}},
{"mark":{"type":"text","text":"Monthly and running 37-month average","align":"left","baseline":"middle","fontSize":10.5,"color":"#0000ff"},"encoding":{"x":{"datum":1979.25,"type":"quantitative","scale":{"domain":[1978.74,2018.41],"nice":false,"zero":false},"axis":null},"y":{"datum":0.784,"type":"quantitative","scale":{"domain":[-0.6,0.75],"range":[502,321.3],"nice":false,"zero":false},"axis":null}}},
{"mark":{"type":"text","text":"May 2017","align":"center","baseline":"middle","angle":270,"fontSize":10,"color":"#0000ff"},"encoding":{"x":{"datum":2017.88,"type":"quantitative","scale":{"domain":[1978.74,2018.41],"nice":false,"zero":false},"axis":null},"y":{"datum":0.0,"type":"quantitative","scale":{"domain":[-0.6,0.75],"range":[502,321.3],"nice":false,"zero":false},"axis":null}}},

{"mark":{"type":"text","text":"UAH-MSU mt 4 km","align":"left","baseline":"middle","fontSize":10.5,"color":"#0000ff"},"encoding":{"x":{"datum":1979.15,"type":"quantitative","scale":{"domain":[1978.74,2018.41],"nice":false,"zero":false},"axis":null},"y":{"datum":0.747,"type":"quantitative","scale":{"domain":[-0.6,0.75],"range":[723,542.2],"nice":false,"zero":false},"axis":null}}},
{"mark":{"type":"text","text":"Monthly and running 37-month average","align":"left","baseline":"middle","fontSize":10.5,"color":"#0000ff"},"encoding":{"x":{"datum":1979.15,"type":"quantitative","scale":{"domain":[1978.74,2018.41],"nice":false,"zero":false},"axis":null},"y":{"datum":0.657,"type":"quantitative","scale":{"domain":[-0.6,0.75],"range":[723,542.2],"nice":false,"zero":false},"axis":null}}},
{"mark":{"type":"text","text":"May 2017","align":"center","baseline":"middle","angle":270,"fontSize":10,"color":"#0000ff"},"encoding":{"x":{"datum":2017.88,"type":"quantitative","scale":{"domain":[1978.74,2018.41],"nice":false,"zero":false},"axis":null},"y":{"datum":0.184,"type":"quantitative","scale":{"domain":[-0.6,0.75],"range":[723,542.2],"nice":false,"zero":false},"axis":null}}},

{"mark":{"type":"text","text":"UAH-MSU lt 2 km","align":"left","baseline":"middle","fontSize":10.5,"color":"#0000ff"},"encoding":{"x":{"datum":1979.2,"type":"quantitative","scale":{"domain":[1978.74,2018.41],"nice":false,"zero":false},"axis":null},"y":{"datum":0.754,"type":"quantitative","scale":{"domain":[-0.6,0.75],"range":[944,763.2],"nice":false,"zero":false},"axis":null}}},
{"mark":{"type":"text","text":"Monthly and running 37-month average","align":"left","baseline":"middle","fontSize":10.5,"color":"#0000ff"},"encoding":{"x":{"datum":1979.2,"type":"quantitative","scale":{"domain":[1978.74,2018.41],"nice":false,"zero":false},"axis":null},"y":{"datum":0.664,"type":"quantitative","scale":{"domain":[-0.6,0.75],"range":[944,763.2],"nice":false,"zero":false},"axis":null}}},
{"mark":{"type":"text","text":"May 2017","align":"center","baseline":"middle","angle":270,"fontSize":10,"color":"#0000ff"},"encoding":{"x":{"datum":2017.88,"type":"quantitative","scale":{"domain":[1978.74,2018.41],"nice":false,"zero":false},"axis":null},"y":{"datum":0.27,"type":"quantitative","scale":{"domain":[-0.6,0.75],"range":[944,763.2],"nice":false,"zero":false},"axis":null}}},
{"mark":{"type":"text","text":"Climate4you graph","align":"right","baseline":"middle","fontSize":10.5,"color":"#0000ff"},"encoding":{"x":{"datum":2017.76,"type":"quantitative","scale":{"domain":[1978.74,2018.41],"nice":false,"zero":false},"axis":null},"y":{"datum":-0.503,"type":"quantitative","scale":{"domain":[-0.6,0.75],"range":[944,763.2],"nice":false,"zero":false},"axis":null}}}
]
}
